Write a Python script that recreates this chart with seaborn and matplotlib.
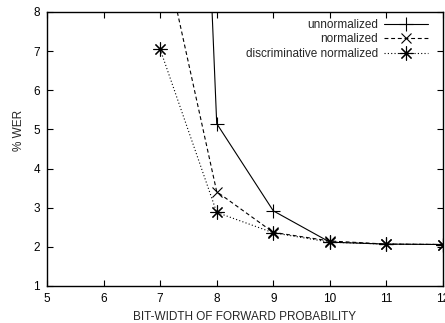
import matplotlib
matplotlib.use("Agg")
import matplotlib.pyplot as plt
import seaborn as sns
import pandas as pd

bits = [7, 8, 9, 10, 11, 12]
unnormalized = [40.0, 5.15, 2.92, 2.12, 2.07, 2.06]
normalized = [10.0, 3.41, 2.37, 2.15, 2.07, 2.06]
discriminative = [7.05, 2.88, 2.36, 2.12, 2.07, 2.06]
series_names = ["unnormalized", "normalized", "discriminative normalized"]
x_ticks = [5, 6, 7, 8, 9, 10, 11, 12]
y_ticks = [1, 2, 3, 4, 5, 6, 7, 8]

sns.set_style("ticks")
plt.rcParams['font.family'] = ['Liberation Sans', 'DejaVu Sans']

fig = plt.figure(figsize=(4.45, 3.23), dpi=100)
ax = fig.add_axes([47/445, (323-286)/323, (443-47)/445, (286-12)/323])

styles = [
    dict(linestyle='-', marker='+', markersize=10, mew=0.8),
    dict(linestyle=(0, (3.5, 2.5)), marker='x', markersize=7.5, mew=0.8),
    dict(linestyle=(0, (1, 2)), marker=(8, 2, 0), markersize=10, mew=0.8),
]
for name, vals, st in zip(series_names, [unnormalized, normalized, discriminative], styles):
    df = pd.DataFrame({"bits": bits, "wer": vals})
    sns.lineplot(data=df, x="bits", y="wer", ax=ax, color="black", lw=0.8,
                 label=name, linestyle=st['linestyle'], marker=st['marker'],
                 markersize=st['markersize'], markeredgewidth=st['mew'],
                 markeredgecolor='black', markerfacecolor='none')

ax.set_xlim(5, 12)
ax.set_ylim(1, 8)
ax.set_xticks(x_ticks)
ax.set_yticks(y_ticks)
ax.tick_params(direction='in', length=4, width=0.8, top=True, right=True,
               labelsize=8.5, colors='black', pad=5)
for s in ax.spines.values():
    s.set_visible(True)
    s.set_linewidth(1.0)
    s.set_color('black')
ax.set_xlabel("BIT-WIDTH OF FORWARD PROBABILITY", fontsize=8.5, labelpad=4)
ax.set_ylabel("% WER", fontsize=8.5)
ax.yaxis.set_label_coords(-0.055, 0.566)

leg = ax.legend(loc='upper right', frameon=False, markerfirst=False, fontsize=8.5,
                handlelength=3.8, handletextpad=0.45, labelspacing=0.2,
                borderaxespad=0.0, bbox_to_anchor=(0.975, 0.992))

fig.savefig("out.png", dpi=100)
